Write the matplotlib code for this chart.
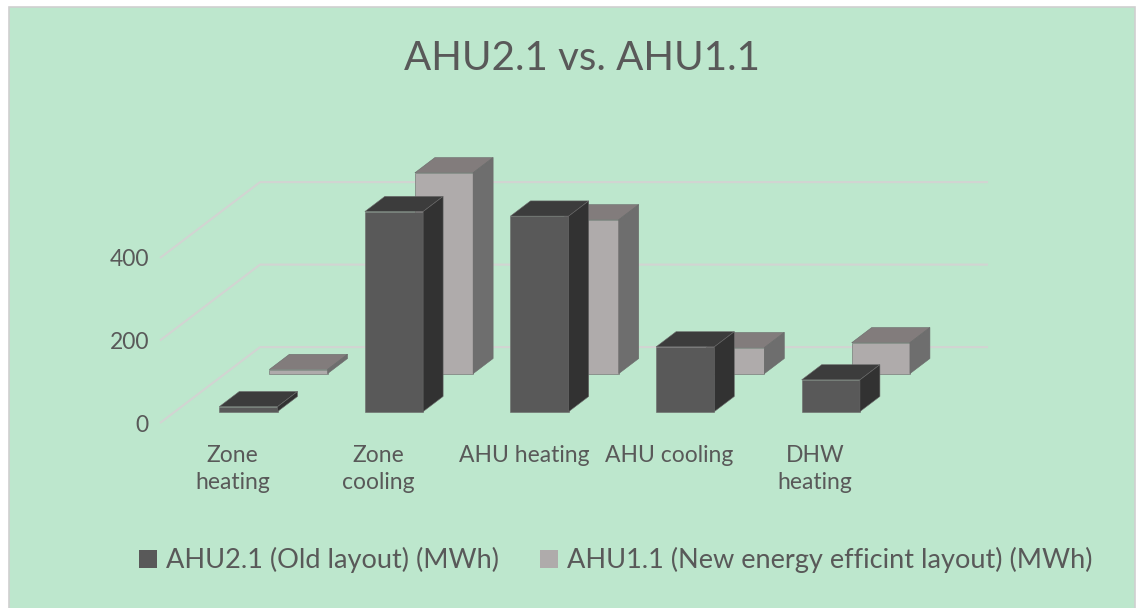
import numpy as np
import matplotlib.pyplot as plt
from matplotlib.patches import Polygon, Rectangle

categories = ["Zone\nheating", "Zone\ncooling", "AHU heating", "AHU cooling", "DHW\nheating"]
old_layout = [12, 485, 474, 157, 77]
new_layout = [10, 487, 373, 63, 75]
series_names = ["AHU2.1 (Old layout) (MWh)", "AHU1.1 (New energy efficint layout) (MWh)"]
y_ticks = [0, 200, 400]

BG = "#bde7cd"
TXT = "#595959"
GRID = "#d2d4d2"

# kolory: przod, gora, bok
dark = ("#595959", "#3c3c3c", "#323232")
light = ("#afabab", "#827c7c", "#6e6e6e")

# glebokosc wykresu (skos) w jednostkach danych
DX = 0.687
DY = 184.0
BAR_W = 0.4
BAR_OFF = 0.304
BAR_D = 0.2

plt.rcParams['font.family'] = ['Lato', 'DejaVu Sans']

W, H = 1144, 608
fig = plt.figure(figsize=(W / 100, H / 100), dpi=100)
fig.patch.set_facecolor("white")
fig.patches.append(Rectangle((9 / W, -0.01), (1135 - 9) / W, 1.01 - 7 / H,
                             transform=fig.transFigure, facecolor=BG,
                             edgecolor="#d0d0d0", lw=1.2, zorder=-10))

ax = fig.add_axes([160 / W, (H - 423) / H, 5.7 * 145.6 / W, 600 * 0.4125 / H])
ax.set_xlim(0, 5.7)
ax.set_ylim(0, 600)
ax.patch.set_visible(False)
for s in ax.spines.values():
    s.set_visible(False)

n = len(categories)

# siatka na scianie bocznej i tylnej
for v in y_ticks:
    ax.plot([0, DX, n + DX], [v, v + DY, v + DY], color=GRID, lw=1.5,
            clip_on=False, zorder=1, solid_capstyle="butt")


def draw_row(values, depth, colors, z):
    xs = np.arange(n) + BAR_OFF + depth * DX
    base = depth * DY
    bars = ax.bar(xs, values, width=BAR_W, bottom=base, align="edge",
                  color=colors[0], edgecolor="#6a6a6a", lw=0.4, zorder=z, clip_on=False)
    ddx = BAR_D * DX
    ddy = BAR_D * DY
    for x, v in zip(xs, values):
        top = base + v
        xr = x + BAR_W
        # gora slupka
        ax.add_patch(Polygon([(x, top), (xr, top), (xr + ddx, top + ddy), (x + ddx, top + ddy)],
                             closed=True, facecolor=colors[1], edgecolor="#6a6a6a", lw=0.4,
                             zorder=z, clip_on=False))
        # bok slupka
        ax.add_patch(Polygon([(xr, base), (xr + ddx, base + ddy), (xr + ddx, top + ddy), (xr, top)],
                             closed=True, facecolor=colors[2], edgecolor="#6a6a6a", lw=0.4,
                             zorder=z, clip_on=False))
    return bars


draw_row(new_layout, 0.65, light, 2)
draw_row(old_layout, 0.15, dark, 3)

ax.set_yticks(y_ticks)
ax.set_yticklabels([str(t) for t in y_ticks])
ax.set_xticks(np.arange(n) + 0.5)
ax.set_xticklabels(categories, linespacing=1.35)
ax.tick_params(axis="y", length=0, pad=8, labelsize=16.5, labelcolor=TXT)
ax.tick_params(axis="x", length=0, pad=16, labelsize=16.5, labelcolor=TXT)

fig.text(582 / W, 1 - 70 / H, "AHU2.1 vs. AHU1.1", ha="center", va="baseline",
         fontsize=29, color=TXT)

handles = [Rectangle((0, 0), 1, 1, facecolor=dark[0]),
           Rectangle((0, 0), 1, 1, facecolor=light[0])]
leg = fig.legend(handles, series_names, loc="center", bbox_to_anchor=(616 / W, 1 - 560 / H),
                 ncol=2, frameon=False, fontsize=19.5, handlelength=0.65, handleheight=0.65,
                 handletextpad=0.35, columnspacing=1.5)
for t in leg.get_texts():
    t.set_color(TXT)

fig.savefig("out.png", dpi=100, facecolor=fig.get_facecolor())
